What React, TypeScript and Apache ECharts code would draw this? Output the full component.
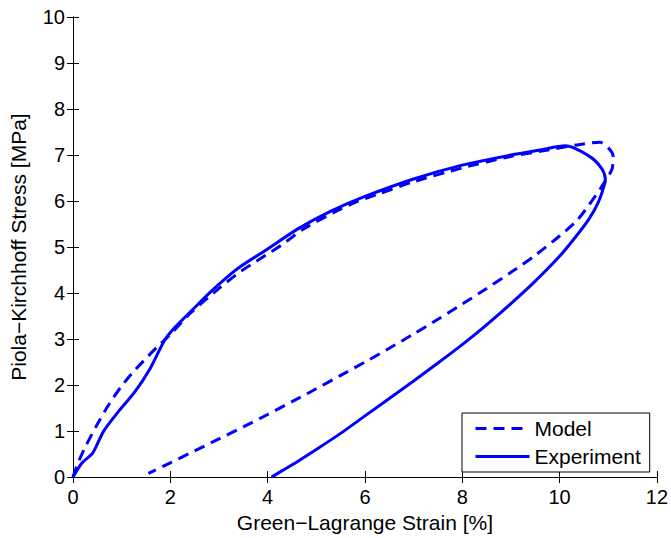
import React, { useEffect, useRef } from "react";
import * as echarts from "echarts";

const xTicks = [0, 2, 4, 6, 8, 10, 12];
const yTicks = [0, 1, 2, 3, 4, 5, 6, 7, 8, 9, 10];

const modelStrain = [
  0, 0.1, 0.25, 0.5, 0.75, 1.0, 1.25, 1.5, 1.75, 2.0, 2.4, 3.0, 3.46, 3.87, 4.28, 4.75, 5.45, 5.86, 6.27,
  7.0, 8.0, 9.0, 9.6, 10.36, 10.83, 11.1, 11.08, 10.92, 10.69, 10.36, 10.0, 9.5, 9.0, 8.5, 8.0, 7.5, 7.0,
  6.5, 6.0, 5.5, 5.0, 4.5, 4.0, 3.5, 3.0, 2.5, 2.0, 1.55,
];
const modelStress = [
  0, 0.3, 0.65, 1.15, 1.6, 1.98, 2.3, 2.58, 2.85, 3.1, 3.55, 4.1, 4.48, 4.76, 5.04, 5.4, 5.8, 6.0, 6.15,
  6.42, 6.72, 6.97, 7.08, 7.22, 7.28, 6.98, 6.7, 6.4, 6.04, 5.58, 5.24, 4.82, 4.45, 4.1, 3.76, 3.43, 3.11,
  2.8, 2.5, 2.21, 1.92, 1.64, 1.36, 1.09, 0.83, 0.57, 0.31, 0.08,
];

const expStrain = [
  0, 0.18, 0.39, 0.47, 0.63, 0.9, 1.27, 1.58, 1.88, 2.09, 2.44, 2.8, 3.19, 3.5, 3.93, 4.63, 5.3, 6.0, 7.0,
  8.0, 9.0, 9.6, 10.12, 10.63, 10.87, 10.94, 10.92, 10.8, 10.6, 10.3, 10.0, 9.5, 9.0, 8.5, 8.0, 7.5,
  7.0, 6.5, 6.0, 5.5, 5.0, 4.6, 4.3, 4.08,
];
const expStress = [
  0, 0.3, 0.5, 0.65, 1.0, 1.38, 1.85, 2.35, 2.97, 3.25, 3.62, 4.0, 4.37, 4.62, 4.91, 5.4, 5.78, 6.1, 6.48,
  6.78, 7.0, 7.11, 7.2, 6.96, 6.7, 6.49, 6.35, 5.98, 5.6, 5.18, 4.8, 4.26, 3.77, 3.31, 2.88, 2.48,
  2.09, 1.71, 1.33, 0.95, 0.6, 0.33, 0.14, 0,
];

const FONT = "'Liberation Sans', Arial, Helvetica, sans-serif";
const BLUE = "#0000ff";

export default function App() {
  const ref = useRef<HTMLDivElement>(null);
  useEffect(() => {
    if (!ref.current) return;
    const chart = echarts.init(ref.current, undefined, { renderer: "svg" });
    const pair = (xs: number[], ys: number[]) => xs.map((x, i) => [x, ys[i]]);
    const hiddenAxis = {
      axisLine: { show: true, lineStyle: { color: "#000", width: 1 } },
      axisTick: { show: true, inside: true, length: 6, lineStyle: { color: "#000" } },
      axisLabel: { show: false },
      splitLine: { show: false },
    };
    chart.setOption({
      animation: false,
      backgroundColor: "#fff",
      textStyle: { fontFamily: FONT },
      grid: { left: 71, right: 14, top: 17, bottom: 57, containLabel: false },
      xAxis: [
        {
          type: "value",
          min: xTicks[0],
          max: xTicks[xTicks.length - 1],
          interval: 2,
          position: "bottom",
          name: "Green\u2212Lagrange Strain [%]",
          nameLocation: "middle",
          nameGap: 31,
          nameTextStyle: { fontSize: 21, color: "#000", fontFamily: FONT, verticalAlign: "top" },
          axisLine: { show: true, lineStyle: { color: "#000", width: 1 } },
          axisTick: { show: true, inside: true, length: 6, lineStyle: { color: "#000" } },
          axisLabel: { fontSize: 20, color: "#000", fontFamily: FONT, margin: 10 },
          splitLine: { show: false },
        },
        {
          type: "value",
          min: xTicks[0],
          max: xTicks[xTicks.length - 1],
          interval: 2,
          position: "top",
          ...hiddenAxis,
        },
      ],
      yAxis: [
        {
          type: "value",
          min: yTicks[0],
          max: yTicks[yTicks.length - 1],
          interval: 1,
          position: "left",
          name: "Piola\u2212Kirchhoff Stress [MPa]",
          nameLocation: "middle",
          nameGap: 44,
          nameTextStyle: { fontSize: 21, color: "#000", fontFamily: FONT },
          axisLine: { show: true, lineStyle: { color: "#000", width: 1 } },
          axisTick: { show: true, inside: true, length: 6, lineStyle: { color: "#000" } },
          axisLabel: { fontSize: 20, color: "#000", fontFamily: FONT, margin: 8 },
          splitLine: { show: false },
        },
        {
          type: "value",
          min: yTicks[0],
          max: yTicks[yTicks.length - 1],
          interval: 1,
          position: "right",
          ...hiddenAxis,
        },
      ],
      legend: {
        orient: "vertical",
        left: 462,
        top: 413,
        padding: [5, 9, 5, 12],
        itemGap: 7,
        itemWidth: 54,
        itemHeight: 14,
        borderColor: "#000",
        borderWidth: 1,
        borderRadius: 0,
        backgroundColor: "#fff",
        itemStyle: { opacity: 0, borderWidth: 0 },
        lineStyle: { width: 3 },
        textStyle: { fontSize: 21, color: "#000", fontFamily: FONT },
        data: ["Model", "Experiment"],
      },
      series: [
        {
          name: "Model",
          type: "line",
          data: pair(modelStrain, modelStress),
          showSymbol: false,
          symbol: "none",
          smooth: 0.25,
          lineStyle: { color: BLUE, width: 3, type: [11, 7] },
          itemStyle: { color: BLUE },
          z: 3,
        },
        {
          name: "Experiment",
          type: "line",
          data: pair(expStrain, expStress),
          showSymbol: false,
          symbol: "none",
          smooth: 0.25,
          lineStyle: { color: BLUE, width: 3, type: "solid" },
          itemStyle: { color: BLUE },
          z: 4,
        },
      ],
    });
    return () => chart.dispose();
  }, []);
  return (
    <div
      ref={ref}
      style={{ position: "fixed", left: 0, top: 0, width: 671, height: 538, background: "#fff" }}
    />
  );
}
